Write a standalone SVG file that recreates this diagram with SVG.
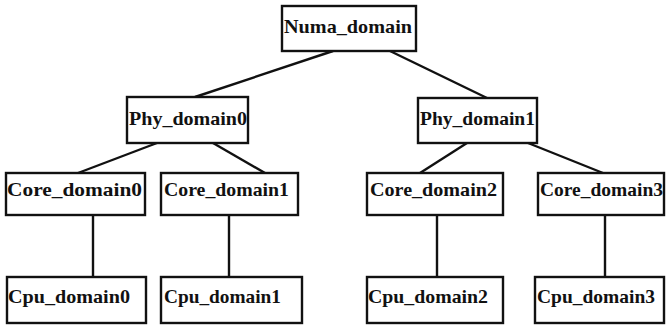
<svg xmlns="http://www.w3.org/2000/svg" width="667" height="326" viewBox="0 0 667 326">
<style>
.b{fill:#fff;stroke:#111;stroke-width:2.4}
.t{font-family:"Liberation Serif","Times New Roman",serif;font-weight:bold;font-size:19px;fill:#111}
.c{stroke:#111;stroke-width:2.4;fill:none}
</style>
<rect width="667" height="326" fill="#fff"/>
<g id="connectors">
<line class="c" x1="333" y1="51" x2="195" y2="97"/>
<line class="c" x1="390" y1="51" x2="487" y2="98"/>
<line class="c" x1="157" y1="143" x2="78" y2="173"/>
<line class="c" x1="213" y1="143" x2="265" y2="173"/>
<line class="c" x1="467" y1="143" x2="420" y2="173"/>
<line class="c" x1="528" y1="143" x2="603" y2="173"/>
<line class="c" x1="93" y1="215" x2="93" y2="277"/>
<line class="c" x1="229" y1="215" x2="229" y2="277"/>
<line class="c" x1="437" y1="215" x2="437" y2="277"/>
<line class="c" x1="605" y1="215" x2="605" y2="277"/>
</g>
<g id="numa"><rect class="b" x="282" y="6" width="134" height="45"/><text class="t" x="284" y="33" textLength="128" lengthAdjust="spacingAndGlyphs">Numa_domain</text></g>
<g id="phy0"><rect class="b" x="127" y="97" width="121" height="46"/><text class="t" x="129" y="125" textLength="118" lengthAdjust="spacingAndGlyphs">Phy_domain0</text></g>
<g id="phy1"><rect class="b" x="418" y="98" width="119" height="45"/><text class="t" x="420" y="125" textLength="115" lengthAdjust="spacingAndGlyphs">Phy_domain1</text></g>
<g id="core0"><rect class="b" x="6" y="173" width="139" height="42"/><text class="t" x="7" y="196" textLength="135" lengthAdjust="spacingAndGlyphs">Core_domain0</text></g>
<g id="core1"><rect class="b" x="161" y="173" width="137" height="42"/><text class="t" x="164" y="196" textLength="125" lengthAdjust="spacingAndGlyphs">Core_domain1</text></g>
<g id="core2"><rect class="b" x="367" y="173" width="136" height="42"/><text class="t" x="370" y="196" textLength="127" lengthAdjust="spacingAndGlyphs">Core_domain2</text></g>
<g id="core3"><rect class="b" x="538" y="173" width="126" height="42"/><text class="t" x="540" y="196" textLength="123" lengthAdjust="spacingAndGlyphs">Core_domain3</text></g>
<g id="cpu0"><rect class="b" x="7" y="277" width="139" height="46"/><text class="t" x="8" y="303" textLength="122" lengthAdjust="spacingAndGlyphs">Cpu_domain0</text></g>
<g id="cpu1"><rect class="b" x="161" y="277" width="141" height="46"/><text class="t" x="164" y="303" textLength="117" lengthAdjust="spacingAndGlyphs">Cpu_domain1</text></g>
<g id="cpu2"><rect class="b" x="367" y="277" width="136" height="46"/><text class="t" x="368" y="303" textLength="120" lengthAdjust="spacingAndGlyphs">Cpu_domain2</text></g>
<g id="cpu3"><rect class="b" x="535" y="277" width="129" height="46"/><text class="t" x="537" y="303" textLength="118" lengthAdjust="spacingAndGlyphs">Cpu_domain3</text></g>
</svg>
